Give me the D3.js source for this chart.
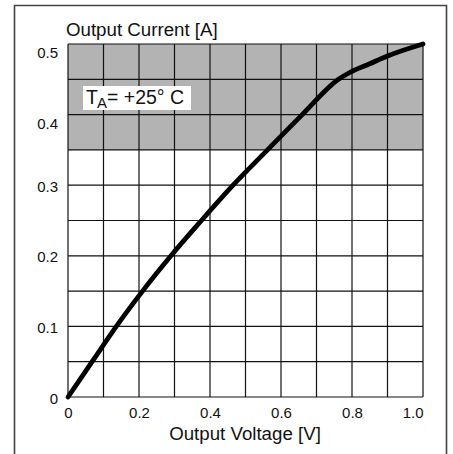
<!DOCTYPE html>
<html>
<head>
<meta charset="utf-8">
<script src="https://cdn.jsdelivr.net/npm/d3@7"></script>
<style>
  body { margin: 0; background: #fff; }
  text { font-family: "Liberation Sans", Arial, sans-serif; fill: #111; }
</style>
</head>
<body>
<svg id="chart" width="453" height="454"></svg>
<script>
/* global d3 */
const
  plotLeft = 68, // plot area edges
  plotRight = 423,
  plotTop = 44,
  plotBottom = 397;

// Curve: output voltage [V] vs output current [A]
const voltage = [0, 0.068, 0.136, 0.21, 0.29, 0.376, 0.465, 0.562, 0.66, 0.762, 0.795, 0.85, 0.9, 1.0];
const current = [0, 0.05, 0.1, 0.15, 0.2, 0.25, 0.3, 0.35, 0.4, 0.45, 0.46, 0.472, 0.483, 0.5];
const xTicks = [0, 0.2, 0.4, 0.6, 0.8, 1.0];
const yTicks = [0, 0.1, 0.2, 0.3, 0.4, 0.5];
const xGrid = d3.range(0, 11).map(i => i / 10);
const yGrid = d3.range(0, 11).map(i => i / 20);
const shadeBand = [0.35, 0.5]; // grey operating area
const tempLabel = ['T', 'A', '= +25° C'];

const svg = d3.select('#chart');
const x = d3.scaleLinear().domain([0, 1]).range([plotLeft, plotRight]);
const y = d3.scaleLinear().domain([0, 0.5]).range([plotBottom, plotTop]);

// outer frame, open at the bottom
svg.append('path')
  .attr('d', 'M14.5,470V5.5H446.5V470')
  .attr('fill', 'none')
  .attr('stroke', '#444')
  .attr('stroke-width', 1.6);

// grey band
svg.append('rect')
  .attr('x', x(0))
  .attr('y', y(shadeBand[1]))
  .attr('width', x(1) - x(0))
  .attr('height', y(shadeBand[0]) - y(shadeBand[1]))
  .attr('fill', '#b3b3b3');

// grid
svg.append('g').selectAll('line')
  .data(xGrid)
  .join('line')
  .attr('x1', d => x(d)).attr('x2', d => x(d))
  .attr('y1', y(0)).attr('y2', y(0.5))
  .attr('stroke', '#111').attr('stroke-width', 1.2);

svg.append('g').selectAll('line')
  .data(yGrid)
  .join('line')
  .attr('x1', x(0)).attr('x2', x(1))
  .attr('y1', d => y(d)).attr('y2', d => y(d))
  .attr('stroke', '#111').attr('stroke-width', 1.2);

// axes: labels only
const yAxis = svg.append('g')
  .attr('transform', `translate(${plotLeft},0)`)
  .call(d3.axisLeft(y).tickValues(yTicks).tickSize(0).tickPadding(10)
    .tickFormat(d => d === 0 ? '0' : d3.format('.1f')(d)));
yAxis.select('.domain').remove();
yAxis.selectAll('text')
  .attr('font-size', 15)
  .attr('dy', d => d >= 0.4 ? '0.92em' : '0.4em');

const xAxis = svg.append('g')
  .attr('transform', `translate(0,${plotBottom})`)
  .call(d3.axisBottom(x).tickValues(xTicks).tickSize(0).tickPadding(10)
    .tickFormat(d => d === 0 ? '0' : d3.format('.1f')(d)));
xAxis.select('.domain').remove();
xAxis.selectAll('text')
  .attr('font-size', 15)
  .attr('text-anchor', d => d === 1 ? 'end' : 'middle');

svg.selectAll('.tick text').attr('fill', '#111').style('font-family', '"Liberation Sans", Arial, sans-serif');

// titles
svg.append('text')
  .attr('x', 66).attr('y', 36)
  .attr('font-size', 18.7)
  .text('Output Current [A]');

svg.append('text')
  .attr('x', 245).attr('y', 440)
  .attr('text-anchor', 'middle')
  .attr('font-size', 18.7)
  .text('Output Voltage [V]');

// temperature label in a white box
svg.append('rect')
  .attr('x', 83).attr('y', 86)
  .attr('width', 108).attr('height', 24)
  .attr('fill', '#fff');

const lab = svg.append('text')
  .attr('x', 86).attr('y', 104)
  .attr('font-size', 19.5);
lab.append('tspan').text(tempLabel[0]);
lab.append('tspan').attr('font-size', 15).attr('dy', 4).attr('dx', -1).text(tempLabel[1]);
lab.append('tspan').attr('dy', -4).text(tempLabel[2]);

// curve
const line = d3.line()
  .x(d => x(d[0]))
  .y(d => y(d[1]))
  .curve(d3.curveMonotoneX);

svg.append('path')
  .datum(d3.zip(voltage, current))
  .attr('d', line)
  .attr('fill', 'none')
  .attr('stroke', '#000')
  .attr('stroke-width', 4.8)
  .attr('stroke-linecap', 'round');
</script>
</body>
</html>
